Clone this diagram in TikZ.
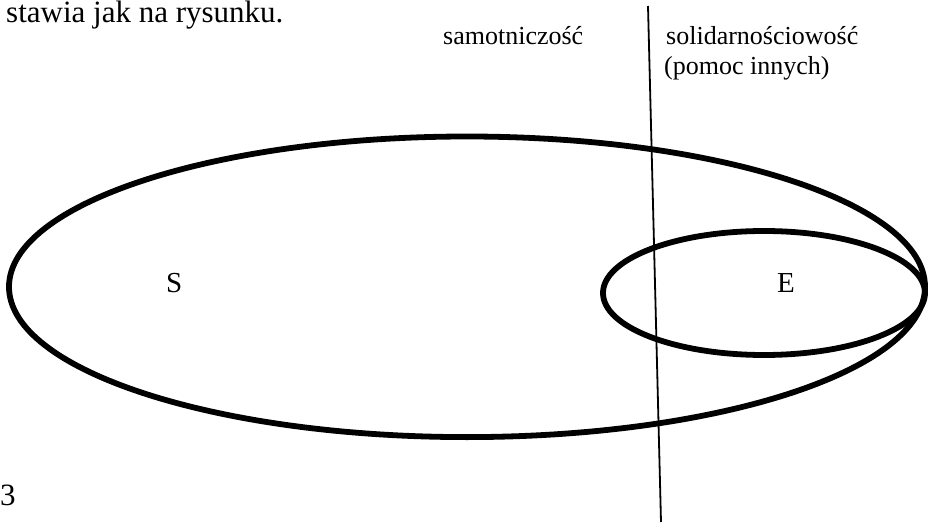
\documentclass[tikz,border=0pt]{standalone}
\usepackage{fontspec}
\setmainfont{Liberation Serif}
\newfontfamily\tnr{Liberation Serif}
\begin{document}
\begin{tikzpicture}[x=1pt,y=-1pt,
  lbl/.style={inner sep=0pt,anchor=base west,font=\tnr\fontsize{26}{30}\selectfont},
  big/.style={inner sep=0pt,anchor=base west,font=\tnr\fontsize{31}{36}\selectfont},
  letter/.style={inner sep=0pt,anchor=base west,font=\tnr\fontsize{29}{34}\selectfont},
  thick ring/.style={line width=5.8pt},
  divider/.style={line width=1.8pt}]
\useasboundingbox (0,0) rectangle (932,532);
% ellipses
\draw[thick ring] (467,286.8) ellipse [x radius=458, y radius=150.3];
\draw[thick ring] (764,293) ellipse [x radius=161, y radius=62];
% divider line
\coordinate (divtop) at (648,6);
\coordinate (divbot) at (661,522);
\draw[divider] (divtop) -- (divbot);
% texts
\node[big] (head) at (6,22.5) {stawia jak na rysunku.};
\node[big] (pagenum) at (0,505) {3};
\node[lbl] (sam) at (443,45) {samotniczość};
\node[lbl] (sol) at (666,45) {solidarnościowość};
\node[lbl] (pom) at (664,75) {(pomoc innych)};
\node[letter] (S) at (166,292) {S};
\node[letter] (E) at (777,292) {E};
\end{tikzpicture}
\end{document}
